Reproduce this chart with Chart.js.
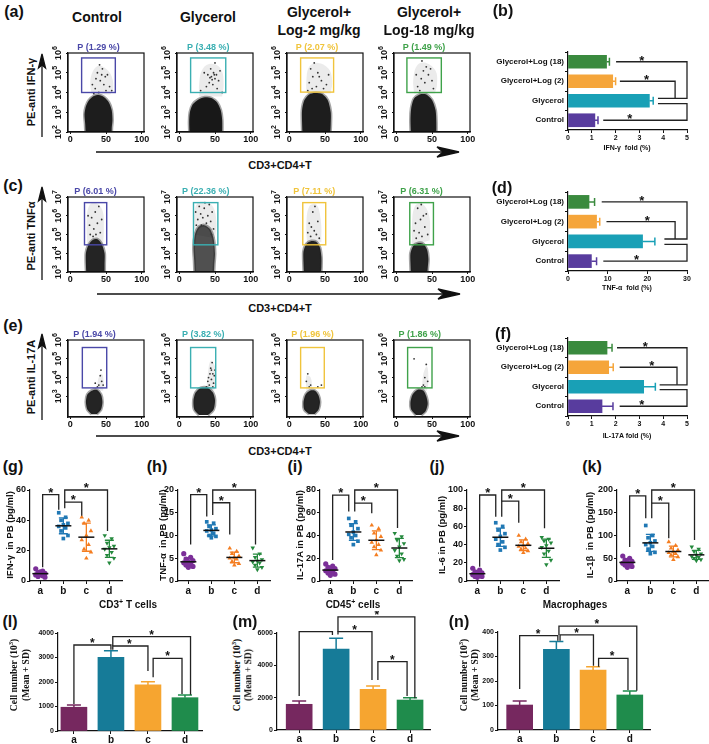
<!DOCTYPE html>
<html><head><meta charset="utf-8">
<script src="https://cdn.jsdelivr.net/npm/chart.js@4.4.1/dist/chart.umd.min.js"></script>
<style>
html,body{margin:0;padding:0;background:#fff;}
#fig{position:relative;width:709px;height:744px;overflow:hidden;font-family:"Liberation Sans",Arial,sans-serif;font-weight:bold;color:#111;}
#fig canvas{position:absolute;}
.t{position:absolute;white-space:nowrap;transform:translate(-50%,-50%);line-height:1;}
.r{transform:translate(-50%,-50%) rotate(-90deg);}
sup{font-size:70%;line-height:0;}
</style></head><body>
<div id="fig">
<svg width="709" height="744" style="position:absolute;left:0;top:0">
  <g stroke="#111" stroke-width="1.3" fill="#111">
    <line x1="42" y1="137" x2="42" y2="62"/><path d="M42 54 L38.5 68 L42 65 L45.5 68 Z"/>
    <line x1="42" y1="280" x2="42" y2="195"/><path d="M42 187 L38.5 201 L42 198 L45.5 201 Z"/>
    <line x1="42" y1="420" x2="42" y2="342"/><path d="M42 334 L38.5 348 L42 345 L45.5 348 Z"/>
    <line x1="96" y1="152" x2="452" y2="152"/><path d="M459 152 L437 147 L443 152 L437 157 Z"/>
    <line x1="97" y1="294" x2="453" y2="294"/><path d="M460 294 L438 289 L444 294 L438 299 Z"/>
    <line x1="96" y1="436" x2="452" y2="436"/><path d="M459 436 L437 431 L443 436 L437 441 Z"/>
  </g>
</svg>
</div>
<script>
// ---------- flow cytometry panels (a, c, e) ----------
const groups = ['Control', 'Glycerol', 'Glycerol+Log-2', 'Glycerol+Log-18'];
const gateColors = ['#4a48a8', '#3aafb2', '#f0c43c', '#3fa24a'];

const ifnPct = ['1.29', '3.48', '2.07', '1.49'];
const tnfPct = ['6.01', '22.36', '7.11', '6.31'];
const il17Pct = ['1.94', '3.82', '1.96', '1.86'];

// gate: [x1, x2, log y1, log y2]
const ifnGate = [[16, 63, 4.0, 5.75], [16, 65, 4.0, 5.75], [16, 62, 4.02, 5.75], [15, 63, 4.0, 5.75]];
const tnfGate = [[20, 51, 4.45, 6.7], [20, 54, 4.45, 6.7], [19, 51, 4.45, 6.7], [19, 52, 4.45, 6.7]];
const il17Gate = [[17, 51, 3.45, 5.6], [16, 51, 3.45, 5.6], [16, 49, 3.45, 5.6], [16, 50, 3.45, 5.6]];

// dense population outline, [x, log y]
const ifnBlob = [
  [[22,1.6],[21,2.4],[20,2.9],[22,3.3],[26,3.6],[33,3.82],[40,3.87],[47,3.77],[54,3.5],[58,3.1],[59,2.6],[58,2.2],[58,1.6]],
  [[15,1.6],[14,2.5],[15,3],[19,3.4],[27,3.65],[36,3.76],[45,3.72],[53,3.5],[58,3.1],[60,2.6],[60,1.6]],
  [[19,1.6],[18,2.5],[18,3.1],[21,3.6],[28,3.9],[36,3.97],[46,3.92],[54,3.6],[58,3],[58,2.4],[57,1.6]],
  [[21,1.6],[20,2.6],[21,3.2],[25,3.7],[33,3.9],[42,3.9],[50,3.62],[55,3.1],[56,2.5],[56,1.6]]
];
const tnfBlob = [
  [[23,2.6],[22,3.4],[22,4.0],[25,4.4],[31,4.7],[38,4.75],[44,4.5],[48,4.0],[48,3.4],[48,2.6]],
  [[22,2.6],[21,3.6],[20,4.3],[22,5.0],[27,5.4],[35,5.5],[43,5.3],[48,4.8],[50,4.0],[49,3.4],[48,2.6]],
  [[21,2.6],[20,3.5],[20,4.1],[24,4.5],[31,4.65],[38,4.6],[43,4.3],[45,3.8],[45,3.3],[44,2.6]],
  [[21,2.6],[20,3.5],[20,4.0],[24,4.4],[31,4.55],[38,4.5],[43,4.2],[45,3.7],[44,3.2],[43,2.6]]
];
const il17Blob = [
  [[30,2.05],[24,2.3],[22,2.7],[24,3.1],[30,3.3],[37,3.35],[43,3.1],[45,2.7],[43,2.3],[37,2.05]],
  [[28,2.0],[21,2.3],[20,2.8],[23,3.2],[30,3.45],[40,3.45],[47,3.2],[50,2.8],[48,2.3],[40,2.0]],
  [[28,2.05],[21,2.3],[20,2.7],[23,3.1],[29,3.3],[36,3.3],[41,3.05],[43,2.7],[41,2.3],[35,2.05]],
  [[28,2.0],[21,2.3],[20,2.7],[23,3.1],[30,3.35],[38,3.3],[42,3.0],[44,2.6],[41,2.2],[35,2.0]]
];

// sparse (gated) region outline
const ifnHalo = [
  [[30,3.9],[28,4.5],[32,5.1],[40,5.35],[50,5.2],[58,4.8],[60,4.2],[56,3.9]],
  [[28,3.8],[28,4.5],[33,5.2],[45,5.45],[58,5.2],[62,4.5],[60,3.8]],
  [[24,3.95],[24,4.6],[28,5.3],[40,5.5],[55,5.2],[60,4.6],[58,3.95]],
  [[25,3.95],[24,4.7],[30,5.4],[42,5.5],[55,5.1],[57,4.4],[54,3.95]]
];
const tnfHalo = [
  [[24,4.5],[23,5.5],[26,6.5],[35,6.7],[45,6.3],[47,5.3],[46,4.5]],
  [[22,5.0],[21,6.0],[25,6.65],[35,6.75],[47,6.5],[52,5.6],[50,4.8]],
  [[25,4.5],[24,5.5],[28,6.5],[38,6.6],[44,5.8],[45,4.6]],
  [[22,4.4],[22,5.5],[26,6.5],[36,6.65],[46,6.0],[47,4.7]]
];
const il17Halo = [
  [[38,3.3],[39,3.9],[44,4.2],[47,3.7],[46,3.3]],
  [[38,3.4],[40,4.2],[44,4.9],[50,4.6],[51,3.9],[49,3.3]],
  [[24,3.3],[24,4.1],[30,4.0],[32,3.4]],
  [[36,3.3],[38,4.2],[43,4.6],[45,3.8],[43,3.3]]
];

// single events
const ifnDots = [
  [[35,4.2],[42,4.6],[47,4.4],[38,5.0],[52,4.9],[45,5.2],[31,4.4],[55,4.3],[40,4.0],[49,4.8],[44,4.9],[36,4.7],[58,4.1],[50,4.1],[41,5.4],[33,3.95]],
  [[45,4.8],[50,4.7],[48,5.0],[52,4.9],[42,4.5],[55,4.6],[38,4.3],[47,4.4],[35,5.0],[57,5.1],[44,5.2],[30,4.1],[53,4.2],[40,4.9],[50,5.5],[60,4.0],[46,4.65],[49,4.9],[43,4.75]],
  [[28,4.5],[33,4.8],[30,5.2],[38,4.3],[45,4.6],[52,4.4],[40,5.0],[35,5.5],[55,4.9],[48,4.2],[26,4.1],[42,4.8],[32,4.2]],
  [[30,4.3],[35,4.7],[40,4.5],[45,4.9],[50,4.6],[38,5.1],[52,4.2],[28,4.9],[42,5.3],[33,4.1],[48,5.2],[36,5.6]]
];
const tnfDots = [
  [[28,5.0],[33,5.3],[38,5.6],[30,5.9],[42,5.1],[35,6.2],[27,5.5],[40,6.5],[44,5.8],[32,4.9],[36,5.0],[25,6.0]],
  [[26,5.8],[30,6.1],[35,6.4],[40,6.0],[44,5.7],[28,6.5],[38,5.6],[46,6.2],[33,5.9],[42,6.6],[24,5.5],[48,5.3],[36,6.7],[31,5.5],[45,5.0],[23,6.2]],
  [[30,4.9],[35,5.2],[28,5.6],[38,5.0],[33,6.2],[40,5.7],[26,5.1],[36,6.5],[42,4.8],[31,5.4]],
  [[28,4.8],[32,5.1],[36,4.9],[40,5.4],[27,5.6],[34,5.8],[42,6.1],[30,6.4],[38,6.0],[25,5.2],[44,5.0],[35,6.6]]
];
const il17Dots = [
  [[40,3.6],[44,3.8],[42,4.1],[38,3.5],[46,3.6],[35,3.7],[43,4.4]],
  [[42,3.6],[45,3.9],[47,4.2],[44,4.5],[48,3.7],[40,3.8],[46,4.8],[49,4.1],[43,4.2],[38,3.5],[50,4.4],[41,4.0],[45,4.4],[47,3.5]],
  [[24,3.8],[26,4.2],[30,3.6],[40,3.5],[45,3.6],[28,3.5]],
  [[38,3.6],[40,4.0],[42,4.7],[36,3.5],[44,3.8],[25,5.0],[40,3.5]]
];

// ---------- fold bar charts (b, d, f) ----------
const foldCats = ['Glycerol+Log (18)', 'Glycerol+Log (2)', 'Glycerol', 'Control'];
const foldColors = ['#3a8a3e', '#f5a53a', '#19a0b6', '#583c9e'];
const ifnFold = [1.62, 1.88, 3.42, 1.13];
const ifnFoldErr = [0.12, 0.12, 0.16, 0.13];
const tnfFold = [5.3, 7.2, 18.8, 5.9];
const tnfFoldErr = [1.4, 0.8, 3.1, 1.3];
const il17Fold = [1.64, 1.71, 3.18, 1.43];
const il17FoldErr = [0.21, 0.19, 0.49, 0.46];

// ---------- cytokines in PB (g-k) ----------
const dotCats = ['a', 'b', 'c', 'd'];
const ifnPB = [[8, 6.5, 5.5, 5, 4.5, 4, 3.5, 3, 2.5, 6], [45, 42, 40, 38, 37, 36, 35, 33, 30, 28], [42, 40, 38, 33, 30, 27, 24, 21, 19, 15], [30, 28, 25, 23, 22, 21, 19, 17, 15, 12]];
const tnfPB = [[6, 5.2, 4.8, 4.5, 4.2, 4, 3.8, 3.5, 3.2, 3], [13, 12.7, 12, 11.5, 11.2, 11, 10.5, 10, 9.8, 9.5], [7.2, 6.5, 6, 5.5, 5.2, 5, 4.8, 4.3, 3.8, 3.5], [7.3, 6, 5.2, 4.7, 4.4, 4.2, 4, 3.5, 3, 2.5]];
const il17PB = [[15, 13, 12, 11, 10, 9, 8, 7, 6, 5], [55, 52, 49, 46, 43, 41, 40, 38, 35, 32], [49, 46, 42, 39, 36, 34, 32, 30, 27, 23], [42, 39, 36, 33, 30, 27, 24, 22, 19, 18]];
const il6PB = [[14, 12, 10, 9, 8, 7, 6, 5, 5, 4], [64, 60, 56, 52, 49, 46, 43, 40, 37, 34], [50, 46, 43, 41, 39, 38, 36, 35, 33, 31], [48, 46, 44, 42, 39, 37, 33, 30, 23, 18]];
const il1bPB = [[55, 50, 46, 43, 41, 39, 37, 35, 32, 30], [122, 100, 95, 88, 84, 80, 76, 70, 63, 60], [86, 78, 72, 68, 65, 62, 60, 57, 53, 47], [75, 70, 65, 60, 57, 54, 52, 50, 47, 45]];
const dotColors = ['#7b2f98', '#2078b4', '#f47d20', '#24893d'];

// ---------- cell numbers (l-n) ----------
const cd3Cells = [970, 3010, 1880, 1360];
const cd3Sd = [90, 270, 130, 110];
const cd45Cells = [1590, 5010, 2515, 1855];
const cd45Sd = [200, 660, 200, 145];
const macroCells = [102, 329, 245, 143];
const macroSd = [16, 32, 13, 16];
const cellColors = ['#76285f', '#167b98', '#f6a530', '#1f8c4c'];

// significance brackets [x, y] in data units, stars at bracket tops
const ifnFoldSig = {lines: [[[2.02,0],[5,0],[5,1.88],[3.78,1.88]], [[2.18,1],[4.5,1],[4.5,1.88]], [[1.48,3],[5,3],[5,2.15],[3.78,2.15]]], stars: [[3.1,0],[3.3,1],[2.6,3]]};
const tnfFoldSig = {lines: [[[8.5,0],[30,0],[30,1.88],[24.3,1.88]], [[9.7,1],[27,1],[27,1.88]], [[8.9,3],[30,3],[30,2.15],[24.3,2.15]]], stars: [[18.6,0],[20,1],[17.3,3]]};
const il17FoldSig = {lines: [[[2.06,0],[5,0],[5,1.9],[3.85,1.9]], [[2.17,1],[4.58,1],[4.58,1.9]], [[2.17,3],[5,3],[5,2.15],[3.85,2.15]]], stars: [[3.25,0],[3.52,1],[3.1,3]]};

const ifnPBSig = {lines: [[[0.1,9],[0.1,57],[0.8,57],[0.8,47]], [[1.06,48],[1.06,52],[1.8,52],[1.8,43]], [[1.06,52],[1.06,60],[2.92,60],[2.92,33]]], stars: [[0.45,57],[1.43,52],[2.0,60]]};
const tnfPBSig = {lines: [[[0.1,8],[0.1,19],[0.8,19],[0.8,14.2]], [[1.06,14.5],[1.06,17.2],[1.8,17.2],[1.8,10.2]], [[1.06,17.2],[1.06,20],[2.92,20],[2.92,8]]], stars: [[0.45,19],[1.43,17.2],[2.0,20]]};
const il17PBSig = {lines: [[[0.1,18.5],[0.1,75.5],[0.8,75.5],[0.8,61]], [[1.06,61],[1.06,68.5],[1.8,68.5],[1.8,59.6]], [[1.06,68.5],[1.06,80],[2.92,80],[2.92,46.5]]], stars: [[0.45,75.5],[1.43,68.5],[2.0,80]]};
const il6PBSig = {lines: [[[0.1,15.7],[0.1,94.5],[0.8,94.5],[0.8,70.7]], [[1.06,70.7],[1.06,87.7],[1.8,87.7],[1.8,64]], [[1.06,87.7],[1.06,100],[2.92,100],[2.92,58]]], stars: [[0.45,94.5],[1.43,87.7],[2.0,100]]};
const il1bPBSig = {lines: [[[0.1,75],[0.1,187],[0.8,187],[0.8,138]], [[1.06,138],[1.06,171],[1.8,171],[1.8,94]], [[1.06,171],[1.06,200],[2.92,200],[2.92,90]]], stars: [[0.45,187],[1.43,171],[2.0,200]]};

const cd3Sig = {lines: [[[0,1100],[0,3510],[1,3510],[1,3320]], [[1.05,3320],[1.05,3470],[2,3470],[2,2450]], [[1.05,3470],[1.05,3850],[3.15,3850],[3.15,1480]], [[2.14,2190],[2.14,2965],[2.92,2965],[2.92,1510]]], stars: [[0.5,3510],[1.5,3470],[2.1,3850],[2.53,2965]]};
const cd45Sig = {lines: [[[0,2100],[0,6080],[0.9,6080],[0.9,5875]], [[1.05,5900],[1.05,6080],[1.97,6080],[1.97,3090]], [[1.05,6080],[1.05,7000],[3.13,7000],[3.13,1960]], [[2.13,3090],[2.13,4225],[2.92,4225],[2.92,2100]]], stars: [[1.5,6080],[2.1,7000],[2.52,4225]]};
const macroSig = {lines: [[[0,167],[0,385],[1.04,385],[1.04,364]], [[1.1,364],[1.1,388],[2.01,388],[2.01,262]], [[1.07,388],[1.07,424],[3.19,424],[3.19,160]], [[2.15,258],[2.15,292],[2.95,292],[2.95,163]]], stars: [[0.5,385],[1.55,388],[2.1,424],[2.52,292]]};

// ================= drawing =================
const FONT = '"Liberation Sans", Arial, sans-serif';
Chart.defaults.font.family = FONT;
Chart.defaults.font.weight = 'bold';
Chart.defaults.font.size = 9;
Chart.defaults.color = '#111';
Chart.defaults.animation = false;
Chart.defaults.plugins.legend.display = false;
Chart.defaults.plugins.tooltip.enabled = false;

const fig = document.getElementById('fig');
const xy = arr => arr.map(p => ({x: p[0], y: p[1]}));
const jit = i => ((i * 3) % 5 - 2) * 0.1;

// put a chart so its plot area sits exactly on [l, t, r, b]
function place(area, m, cfg) {
  const [l, t, r, b] = area, [ml, mt, mr, mb] = m;
  const cv = document.createElement('canvas');
  const w = r - l + ml + mr, h = b - t + mt + mb;
  cv.width = w; cv.height = h;
  cv.style.left = (l - ml) + 'px'; cv.style.top = (t - mt) + 'px';
  cv.style.width = w + 'px'; cv.style.height = h + 'px';
  fig.appendChild(cv);
  const o = cfg.options;
  o.responsive = false;
  o.layout = {padding: {left: 0, top: mt, right: mr, bottom: 0}};
  o.scales.x.afterFit = s => { s.height = mb; s.paddingLeft = 0; s.paddingRight = 0; };
  o.scales.y.afterFit = s => { s.width = ml; s.paddingTop = 0; s.paddingBottom = 0; };
  return new Chart(cv, cfg);
}

const axisGrid = {drawOnChartArea: false, tickLength: 3, color: '#111'};
const axisBorder = {color: '#111', width: 1.2};

const flowPlug = {
  id: 'flow',
  afterDatasetsDraw(chart, args, o) {
    const {ctx, chartArea: ca, scales: {x, y}} = chart;
    const [x1, x2, y1, y2] = o.gate;
    const px1 = x.getPixelForValue(x1), px2 = x.getPixelForValue(x2);
    const py1 = y.getPixelForValue(y1), py2 = y.getPixelForValue(y2);
    ctx.save();
    ctx.strokeStyle = o.col; ctx.lineWidth = 1.4;
    ctx.strokeRect(px1, py2, px2 - px1, py1 - py2);
    ctx.strokeStyle = '#111'; ctx.lineWidth = 1.2;
    ctx.strokeRect(ca.left, ca.top, ca.width, ca.height);
    ctx.fillStyle = o.col; ctx.font = 'bold 9px ' + FONT;
    ctx.textAlign = 'center'; ctx.textBaseline = 'bottom';
    ctx.fillText('P (' + o.pct + ' %)', (px1 + px2) / 2, ca.top - 1);
    ctx.fillStyle = '#111'; ctx.textAlign = 'left'; ctx.textBaseline = 'middle';
    y.ticks.forEach(t => {
      const e = String(Math.round(t.value));
      ctx.save();
      ctx.translate(ca.left - 9, y.getPixelForValue(t.value));
      ctx.rotate(-Math.PI / 2);
      ctx.font = 'bold 9px ' + FONT; const w1 = ctx.measureText('10').width;
      ctx.font = 'bold 7px ' + FONT; const w2 = ctx.measureText(e).width;
      const x0 = -(w1 + w2) / 2;
      ctx.font = 'bold 9px ' + FONT; ctx.fillText('10', x0, 0);
      ctx.font = 'bold 7px ' + FONT; ctx.fillText(e, x0 + w1, -4);
      ctx.restore();
    });
    ctx.restore();
  }
};

const marksPlug = {
  id: 'marks',
  afterDatasetsDraw(chart, args, o) {
    const {ctx, scales: {x, y}} = chart;
    ctx.save();
    ctx.strokeStyle = '#222'; ctx.lineWidth = 1.3;
    (o.lines || []).forEach(p => {
      ctx.beginPath();
      p.forEach(([a, b], i) => {
        const px = x.getPixelForValue(a), py = y.getPixelForValue(b);
        i ? ctx.lineTo(px, py) : ctx.moveTo(px, py);
      });
      ctx.stroke();
    });
    ctx.fillStyle = '#111'; ctx.font = 'bold ' + (o.size || 13) + 'px ' + FONT;
    ctx.textAlign = 'center'; ctx.textBaseline = 'alphabetic';
    (o.stars || []).forEach(([a, b]) => ctx.fillText('*', x.getPixelForValue(a), y.getPixelForValue(b) + (o.dy || 2)));
    ctx.restore();
  }
};

const errPlug = {
  id: 'errs',
  afterDatasetsDraw(chart, args, o) {
    const {ctx, scales} = chart;
    ctx.save(); ctx.lineWidth = 1.5;
    chart.data.datasets.forEach((ds, di) => {
      chart.getDatasetMeta(di).data.forEach((bar, i) => {
        const raw = ds.data[i], v = typeof raw === 'object' ? raw.y : raw;
        ctx.strokeStyle = ds.backgroundColor[i];
        ctx.beginPath();
        if (o.horizontal) {
          const xe = scales.x.getPixelForValue(v + ds.err[i]);
          ctx.moveTo(bar.x, bar.y); ctx.lineTo(xe, bar.y);
          ctx.moveTo(xe, bar.y - 4); ctx.lineTo(xe, bar.y + 4);
        } else {
          const ye = scales.y.getPixelForValue(v + ds.err[i]);
          ctx.moveTo(bar.x, bar.y); ctx.lineTo(bar.x, ye);
          ctx.moveTo(bar.x - 7, ye); ctx.lineTo(bar.x + 7, ye);
        }
        ctx.stroke();
      });
    });
    ctx.restore();
  }
};

const meanSdPlug = {
  id: 'meanSd',
  afterDatasetsDraw(chart) {
    const {ctx, scales: {x, y}} = chart;
    ctx.save();
    chart.data.datasets.forEach((ds, g) => {
      const v = ds.data.map(p => p.y);
      const m = v.reduce((a, b) => a + b, 0) / v.length;
      const sd = Math.sqrt(v.reduce((a, b) => a + (b - m) ** 2, 0) / (v.length - 1));
      const px = x.getPixelForValue(g), hi = y.getPixelForValue(m + sd), lo = y.getPixelForValue(m - sd), pm = y.getPixelForValue(m);
      ctx.strokeStyle = ds.backgroundColor; ctx.lineWidth = 1.3;
      ctx.beginPath();
      ctx.moveTo(px, hi); ctx.lineTo(px, lo);
      ctx.moveTo(px - 4.5, hi); ctx.lineTo(px + 4.5, hi);
      ctx.moveTo(px - 4.5, lo); ctx.lineTo(px + 4.5, lo);
      ctx.stroke();
      ctx.strokeStyle = '#111'; ctx.lineWidth = 1.5;
      ctx.beginPath(); ctx.moveTo(px - 8, pm); ctx.lineTo(px + 8, pm); ctx.stroke();
    });
    ctx.restore();
  }
};

function flowChart(area, yr, blob, halo, dots, gate, col, pct, alpha) {
  return place(area, [16, 14, 8, 12], {
    type: 'scatter',
    data: {datasets: [
      {data: xy(dots), pointRadius: 0.9, pointBackgroundColor: '#333', pointBorderWidth: 0},
      {type: 'line', data: xy(blob), fill: 'shape', tension: 0.25, backgroundColor: 'rgba(12,12,12,' + alpha + ')', borderColor: 'rgba(30,30,30,0.4)', borderWidth: 3, pointRadius: 0},
      {type: 'line', data: xy(halo), fill: 'shape', tension: 0.4, backgroundColor: 'rgba(90,90,90,0.12)', borderWidth: 0, pointRadius: 0}
    ]},
    options: {
      scales: {
        x: {type: 'linear', min: -3, max: 103, afterBuildTicks: s => { s.ticks = [0, 50, 100].map(v => ({value: v})); },
            ticks: {font: {size: 9}, padding: 0, maxRotation: 0}, grid: {drawOnChartArea: false, tickLength: 2, color: '#111'}, border: axisBorder},
        y: {type: 'linear', min: yr[0], max: yr[1], afterBuildTicks: s => { s.ticks = s.ticks.filter(t => Math.abs(t.value - Math.round(t.value)) < 1e-6); },
            ticks: {stepSize: 1, display: false}, grid: {drawOnChartArea: false, tickLength: 2, color: '#111'}, border: axisBorder}
      },
      plugins: {flow: {gate, col, pct}}
    },
    plugins: [flowPlug]
  });
}

function foldChart(area, vals, errs, xMax, step, sig) {
  return place(area, [100, 8, 10, 12], {
    type: 'bar',
    data: {labels: foldCats, datasets: [{data: vals, err: errs, backgroundColor: foldColors, barThickness: 13}]},
    options: {
      indexAxis: 'y',
      scales: {
        x: {min: 0, max: xMax, ticks: {stepSize: step, font: {size: 7}, padding: 1}, grid: axisGrid, border: axisBorder},
        y: {ticks: {font: {size: 8}, padding: 1}, grid: axisGrid, border: axisBorder}
      },
      plugins: {errs: {horizontal: true}, marks: Object.assign({size: 13, dy: 3}, sig)}
    },
    plugins: [errPlug, marksPlug]
  });
}

function dotChart(area, vals, yMax, step, sig) {
  return place(area, [30, 14, 4, 16], {
    type: 'scatter',
    data: {datasets: vals.map((v, g) => ({
      data: v.map((val, i) => ({x: g + jit(i), y: val})),
      pointStyle: ['circle', 'rect', 'triangle', 'triangle'][g], rotation: g === 3 ? 180 : 0,
      pointRadius: 2.6, backgroundColor: dotColors[g], borderColor: dotColors[g], borderWidth: 0
    }))},
    options: {
      scales: {
        x: {type: 'linear', min: -0.45, max: 3.55, afterBuildTicks: s => { s.ticks = [0, 1, 2, 3].map(v => ({value: v})); },
            ticks: {callback: v => dotCats[v], font: {size: 10}, padding: 1}, grid: axisGrid, border: axisBorder},
        y: {min: 0, max: yMax, ticks: {stepSize: step, font: {size: 9}, padding: 1}, grid: axisGrid, border: axisBorder}
      },
      plugins: {marks: Object.assign({size: 13, dy: 2}, sig)}
    },
    plugins: [meanSdPlug, marksPlug]
  });
}

function cellChart(area, vals, sds, yMax, step, xr, sig) {
  return place(area, [26, 22, 4, 13], {
    type: 'bar',
    data: {datasets: [{data: vals.map((v, i) => ({x: i, y: v})), err: sds, backgroundColor: cellColors, barThickness: 26}]},
    options: {
      scales: {
        x: {type: 'linear', offset: false, min: xr[0], max: xr[1], afterBuildTicks: s => { s.ticks = [0, 1, 2, 3].map(v => ({value: v})); },
            ticks: {callback: v => dotCats[v], font: {size: 10}, padding: 0}, grid: Object.assign({offset: false}, axisGrid), border: axisBorder},
        y: {min: 0, max: yMax, ticks: {stepSize: step, font: {size: 7}, padding: 1, callback: v => String(v)}, grid: axisGrid, border: axisBorder}
      },
      plugins: {errs: {}, marks: Object.assign({size: 12, dy: 2}, sig)}
    },
    plugins: [errPlug, marksPlug]
  });
}

// flow rows
const flowLefts = [68, 177, 287, 394];
const flowRows = [
  {top: 53, bot: 132, yr: [2, 6], blob: ifnBlob, halo: ifnHalo, dots: ifnDots, gate: ifnGate, pct: ifnPct, alpha: [0.93, 0.95, 0.93, 0.93]},
  {top: 197, bot: 272, yr: [3, 7], blob: tnfBlob, halo: tnfHalo, dots: tnfDots, gate: tnfGate, pct: tnfPct, alpha: [0.9, 0.72, 0.9, 0.9]},
  {top: 340, bot: 417, yr: [1.9, 6], blob: il17Blob, halo: il17Halo, dots: il17Dots, gate: il17Gate, pct: il17Pct, alpha: [0.9, 0.9, 0.9, 0.9]}
];
flowRows.forEach(r => flowLefts.forEach((l, g) =>
  flowChart([l, r.top, l + 76, r.bot], r.yr, r.blob[g], r.halo[g], r.dots[g], r.gate[g], gateColors[g], r.pct[g], r.alpha[g])));

foldChart([568, 52, 687, 130], ifnFold, ifnFoldErr, 5, 1, ifnFoldSig);
foldChart([568, 192, 687, 271], tnfFold, tnfFoldErr, 30, 10, tnfFoldSig);
foldChart([568, 338, 687, 416], il17Fold, il17FoldErr, 5, 1, il17FoldSig);

dotChart([30, 490, 122, 581], ifnPB, 60, 20, ifnPBSig);
dotChart([178, 490, 270, 581], tnfPB, 20, 5, tnfPBSig);
dotChart([320, 490, 412, 581], il17PB, 80, 20, il17PBSig);
dotChart([467, 490, 559, 581], il6PB, 100, 20, il6PBSig);
dotChart([617, 490, 709, 581], il1bPB, 200, 50, il1bPBSig);

cellChart([58, 633, 202, 731], cd3Cells, cd3Sd, 4000, 1000, [-0.43, 3.46], cd3Sig);
cellChart([277, 633, 430, 730], cd45Cells, cd45Sd, 6000, 2000, [-0.6, 3.54], cd45Sig);
cellChart([498, 632, 650, 730], macroCells, macroSd, 400, 100, [-0.59, 3.55], macroSig);

// text
function label(html, x, y, size, rot, font) {
  const d = document.createElement('div');
  d.className = 't' + (rot ? ' r' : '');
  d.innerHTML = html;
  d.style.left = x + 'px'; d.style.top = y + 'px'; d.style.fontSize = size + 'px';
  if (font) d.style.fontFamily = font;
  fig.appendChild(d);
}
[['(a)', 14, 12], ['(b)', 503, 11], ['(c)', 13, 186], ['(d)', 502, 188], ['(e)', 13, 326], ['(f)', 503, 334],
 ['(g)', 13, 467], ['(h)', 157, 467], ['(i)', 295, 467], ['(j)', 437, 467], ['(k)', 592, 467],
 ['(l)', 10, 622], ['(m)', 245, 622], ['(n)', 459, 622]].forEach(p => label(p[0], p[1], p[2], 16));
[['Control', 97, 17], ['Glycerol', 208, 17], ['Glycerol+', 319, 12], ['Log-2 mg/kg', 319, 30],
 ['Glycerol+', 429, 12], ['Log-18 mg/kg', 429, 30]].forEach(p => label(p[0], p[1], p[2], 14));
[['PE-anti IFN-γ', 31, 92], ['PE-anti TNFα', 31, 236], ['PE-anti IL-17A', 31, 377]].forEach(p => label(p[0], p[1], p[2], 11, true));
[165, 308, 451].forEach(y => label('CD3+CD4+T', 280, y, 11));
[['IFN-γ&nbsp; fold (%)', 627, 147], ['TNF-α&nbsp; fold (%)', 627, 287], ['IL-17A fold (%)', 627, 435]].forEach(p => label(p[0], p[1], p[2], 7));
[['IFN-γ&nbsp; in PB (pg/ml)', 10, 535], ['TNF-α&nbsp; in PB (pg/ml)', 163, 535], ['IL-17A in PB (pg/ml)', 300, 535],
 ['IL-6 in PB (pg/ml)', 442, 535], ['IL-1β&nbsp; in PB (pg/ml)', 590, 535]].forEach(p => label(p[0], p[1], p[2], 9.5, true));
[['CD3<sup>+</sup> T cells', 128, 605], ['CD45<sup>+</sup> cells', 353, 605], ['Macrophages', 575, 605]].forEach(p => label(p[0], p[1], p[2], 10));
const serif = '"Liberation Serif", "Times New Roman", serif';
[[15, 27], [238, 249], [465, 476]].forEach(p => {
  label('Cell number (10<sup>3</sup>)', p[0], 675, 9.5, true, serif);
  label('(Mean + SD)', p[1], 675, 9.5, true, serif);
});
</script>
</body></html>
